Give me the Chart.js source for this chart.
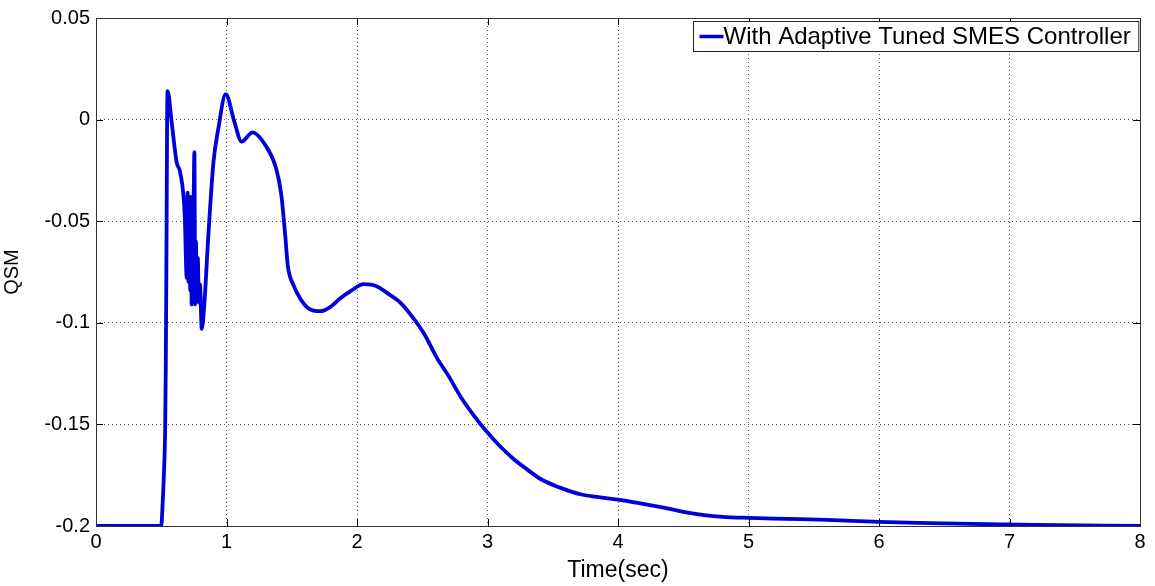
<!DOCTYPE html>
<html>
<head>
<meta charset="utf-8">
<script src="https://cdn.jsdelivr.net/npm/chart.js@4"></script>
<style>
  html, body { margin: 0; padding: 0; background: #fff; }
  #wrap { width: 1155px; height: 586px; position: relative; }
</style>
</head>
<body>
<div id="wrap"><canvas id="chart_qsm"></canvas></div>
<script>
// QSM response of the adaptive tuned SMES controller
var timeSec = [
  0, 0.5, 0.51, 0.52, 0.53, 0.535, 0.54, 0.545, 0.549, 0.58,
  0.618, 0.645, 0.68, 0.695, 0.702, 0.709, 0.716, 0.722, 0.728, 0.733,
  0.74, 0.746, 0.754, 0.76, 0.766, 0.772, 0.78, 0.788, 0.797, 0.81,
  0.83, 0.86, 0.90, 0.937, 0.994, 1.06, 1.115,
  1.2, 1.30, 1.38, 1.42, 1.45, 1.47, 1.51, 1.56, 1.63, 1.72,
  1.8, 1.87, 1.96, 2.05, 2.15, 2.23, 2.33, 2.43, 2.52, 2.61,
  2.7, 2.8, 2.9, 3.0, 3.1, 3.2, 3.3, 3.41, 3.55, 3.72,
  3.85, 4.0, 4.15, 4.35, 4.5, 4.66, 4.8, 5.0, 5.3, 5.6,
  6.0, 6.3, 6.7, 7.2, 8.0
];
var qsmValues = [
  -0.2, -0.2, -0.19, -0.175, -0.152, -0.12, -0.065, 0.0, 0.014, -0.0014,
  -0.021, -0.026, -0.047, -0.078, -0.036, -0.08, -0.04, -0.084, -0.038, -0.091,
  -0.05, -0.047, -0.016, -0.091, -0.06, -0.086, -0.068, -0.09, -0.081, -0.103,
  -0.091, -0.058, -0.021, -0.0046, 0.0125, -0.001, -0.0108,
  -0.0063, -0.0128, -0.024, -0.037, -0.057, -0.072, -0.081, -0.0875, -0.093, -0.0943,
  -0.092, -0.088, -0.084, -0.081, -0.082, -0.0853, -0.090, -0.0976, -0.106, -0.117,
  -0.126, -0.137, -0.146, -0.154, -0.161, -0.167, -0.172, -0.177, -0.181, -0.1845,
  -0.1858, -0.187, -0.1886, -0.191, -0.193, -0.1946, -0.1955, -0.196, -0.1965, -0.197,
  -0.198, -0.1985, -0.199, -0.1995, -0.2
];
var xTicks = [0, 1, 2, 3, 4, 5, 6, 7, 8];
var yTicks = [0.05, 0, -0.05, -0.1, -0.15, -0.2];
var seriesLabel = 'With Adaptive Tuned SMES Controller';

var FONT = 'Liberation Sans, Arial, Helvetica, sans-serif';
var LINE_BLUE = '#0000d8';

var points = timeSec.map(function(t, i) { return { x: t, y: qsmValues[i] }; });

// box around the axes, inward tick marks on all four sides, and the framed legend
var matlabAxes = {
    id: 'matlabAxes',
    beforeDraw: function(chart) {
        var ctx = chart.ctx;
        ctx.save();
        ctx.fillStyle = 'white';
        ctx.fillRect(0, 0, chart.width, chart.height);
        ctx.restore();
    },
    afterDraw: function(chart) {
        var ctx = chart.ctx;
        var a = chart.chartArea;
        var xs = chart.scales.x, ys = chart.scales.y;
        var tl = 7;
        ctx.save();
        ctx.strokeStyle = '#000';
        ctx.lineWidth = 1;
        ctx.beginPath();
        xTicks.forEach(function(v) {
            var px = Math.round(xs.getPixelForValue(v)) + 0.5;
            ctx.moveTo(px, a.bottom); ctx.lineTo(px, a.bottom - tl);
            ctx.moveTo(px, a.top); ctx.lineTo(px, a.top + tl);
        });
        yTicks.forEach(function(v) {
            var py = Math.round(ys.getPixelForValue(v)) + 0.5;
            ctx.moveTo(a.left, py); ctx.lineTo(a.left + tl, py);
            ctx.moveTo(a.right, py); ctx.lineTo(a.right - tl, py);
        });
        ctx.stroke();
        ctx.strokeStyle = '#333';
        ctx.strokeRect(Math.round(a.left) + 0.5, Math.round(a.top) + 0.5,
                       Math.round(a.right - a.left), Math.round(a.bottom - a.top));

        // legend
        ctx.font = '24px ' + FONT;
        var tw = ctx.measureText(seriesLabel).width;
        var sample = 24;
        var bw = 6 + sample + tw + 8;
        var bh = 30;
        var bx = Math.round(a.right - 2 - bw) + 0.5;
        var by = Math.round(a.top + 3) + 0.5;
        ctx.fillStyle = '#fff';
        ctx.fillRect(bx, by, bw, bh);
        ctx.strokeStyle = '#222';
        ctx.strokeRect(bx, by, bw, bh);
        ctx.strokeStyle = LINE_BLUE;
        ctx.lineWidth = 3.5;
        ctx.beginPath();
        ctx.moveTo(bx + 6, by + bh / 2);
        ctx.lineTo(bx + 6 + sample, by + bh / 2);
        ctx.stroke();
        ctx.fillStyle = '#000';
        ctx.textBaseline = 'middle';
        ctx.fillText(seriesLabel, bx + 6 + sample, by + bh / 2 + 1);
        ctx.restore();
    }
};

var chart_qsm = new Chart(document.getElementById('chart_qsm'), {
    type: 'scatter',
    data: {
        datasets: [
            {
                label: seriesLabel,
                data: points,
                showLine: true,
                borderColor: LINE_BLUE,
                backgroundColor: LINE_BLUE,
                borderWidth: 3.8,
                pointRadius: 0,
                cubicInterpolationMode: 'monotone'
            }
        ]
    },
    options: {
        animation: false,
        responsive: true,
        maintainAspectRatio: false,
        layout: { padding: { left: 0, right: 15, top: 15, bottom: 0 } },
        plugins: {
            legend: { display: false },
            tooltip: { enabled: false }
        },
        scales: {
            x: {
                type: 'linear',
                min: 0,
                max: 8,
                afterBuildTicks: function(scale) {
                    scale.ticks = xTicks.map(function(v) { return { value: v }; });
                },
                afterFit: function(scale) { scale.height = 60; },
                ticks: {
                    color: '#000',
                    font: { family: FONT, size: 20 },
                    padding: 4,
                    maxRotation: 0
                },
                grid: {
                    color: '#555',
                    lineWidth: 1,
                    drawTicks: false
                },
                border: { display: false, dash: [1, 3] },
                title: {
                    display: true,
                    text: 'Time(sec)',
                    color: '#000',
                    font: { family: FONT, size: 23 },
                    padding: { top: 0, bottom: 2 }
                }
            },
            y: {
                type: 'linear',
                min: -0.2,
                max: 0.05,
                afterBuildTicks: function(scale) {
                    scale.ticks = yTicks.map(function(v) { return { value: v }; });
                },
                afterFit: function(scale) { scale.width = 96; },
                ticks: {
                    color: '#000',
                    font: { family: FONT, size: 20 },
                    padding: 6,
                    callback: function(value) {
                        return String(Math.round(value * 100) / 100);
                    }
                },
                grid: {
                    color: '#555',
                    lineWidth: 1,
                    drawTicks: false
                },
                border: { display: false, dash: [1, 3] },
                title: {
                    display: true,
                    text: 'QSM',
                    color: '#000',
                    font: { family: FONT, size: 20 },
                    padding: { top: 0, bottom: 0 }
                }
            }
        }
    },
    plugins: [matlabAxes]
});
</script>
</body>
</html>
